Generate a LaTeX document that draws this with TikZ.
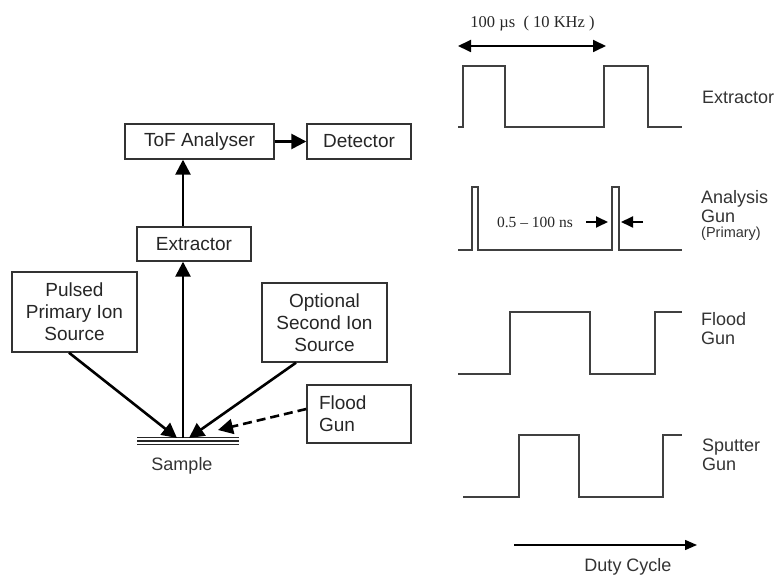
\documentclass[tikz,border=0pt]{standalone}
\usepackage{fontspec}
\setmainfont{Liberation Sans}
\newfontfamily\timesfont{Liberation Serif}
\usetikzlibrary{arrows.meta,positioning}

\begin{document}
\begin{tikzpicture}[x=1pt,y=-1pt,
    box/.style={draw=black!80,line width=1.4pt,align=center,inner sep=2pt,
                font=\fontsize{19}{22}\selectfont,text=black!85},
    beam/.style={line width=2.6pt,-{Triangle[length=15pt,width=15pt]}},
    wave/.style={draw=black!75,line width=1.3pt},
    lbl/.style={font=\fontsize{18}{19}\selectfont,text=black!80,align=left,
                anchor=west,inner sep=0pt},
    tlbl/.style={font=\timesfont\fontsize{15.5}{16}\selectfont,text=black!85,inner sep=0pt},
    tick/.style={line width=1.8pt,-{Triangle[length=12pt,width=11pt]}}]
  \useasboundingbox (0,0) rectangle (777,577);
  % instrument blocks
  \node[box,minimum width=149pt,minimum height=35pt] (tof) at (199.5,141.5) {ToF Analyser};
  \node[box,minimum width=104pt,minimum height=35pt] (det) at (359,141.5)   {Detector};
  \node[box,minimum width=114pt,minimum height=34pt] (ext) at (194,244)     {Extractor};
  \node[box,minimum width=125pt,minimum height=80pt] (pis) at (74.5,312)    {Pulsed\\Primary Ion\\Source};
  \node[box,minimum width=125pt,minimum height=79pt] (sis) at (324.5,322.5) {Optional\\Second Ion\\Source};
  \node[box,minimum width=104pt,minimum height=58pt,align=left,text width=80pt] (fg) at (359,414) {Flood\\Gun};
  % sample
  \coordinate (hit)  at (183,438);
  \coordinate (hitl) at (177,438);
  \coordinate (hitr) at (189,438);
  \coordinate (hitf) at (218,430);
  \foreach \y in {437.5,441,444.5}
    \draw[line width=1.6pt,black!85] (137,\y) -- (239,\y);
  \node[font=\fontsize{18}{18}\selectfont,text=black!80] (smp) at (182,466) {Sample};
  % beams
  \draw[beam] (tof) -- (det);
  \draw[beam] (ext.north -| hit) -- (tof.south -| hit);
  \draw[beam] (hit) -- (ext.south -| hit);
  \draw[beam] ([xshift=-5.5pt]pis.south) -- (hitl);
  \draw[beam] ([xshift=-28.5pt]sis.south) -- (hitr);
  \draw[beam,dash pattern=on 9pt off 5pt] ([yshift=5pt]fg.west) -- (hitf);

  % timing waveforms
  \draw[wave] (458,127) -- (463,127) -- (463,66) -- (505,66) -- (505,127) -- (604,127)
    -- (604,66) -- (648,66) -- (648,127) -- (682,127);
  \draw[wave] (458,250) -- (472,250) -- (472,187) -- (478,187) -- (478,250) -- (612,250)
    -- (612,187) -- (619,187) -- (619,250) -- (682,250);
  \draw[wave] (458,374) -- (510,374) -- (510,312) -- (590,312) -- (590,374) -- (655,374)
    -- (655,312) -- (682,312);
  \draw[wave] (463,497) -- (519,497) -- (519,435) -- (579,435) -- (579,497) -- (663,497)
    -- (663,435) -- (682,435);
  \node[lbl] (lext) at (702,97)    {Extractor};
  \node[lbl] (lana) at (701,206.5) {Analysis\\Gun};
  \node[lbl,font=\fontsize{14.5}{15}\selectfont] (lpri) at (701,234) {(Primary)};
  \node[lbl] (lfld) at (701,329)   {Flood\\Gun};
  \node[lbl] (lspt) at (702,454.5) {Sputter\\Gun};
  % period and pulse width
  \coordinate (p0) at (458,46);
  \coordinate (p1) at (606,46);
  \draw[line width=1.8pt,{Triangle[length=13pt,width=12pt]}-{Triangle[length=13pt,width=12pt]}] (p0) -- (p1);
  \node[tlbl,font=\timesfont\fontsize{16.5}{17}\selectfont] (per) at (532.5,24) {100 µs \ ( 10 KHz )};
  \node[tlbl] (pw) at (535,222) {0.5 – 100 ns};
  \coordinate (w0) at (586,222);
  \coordinate (w1) at (608,222);
  \coordinate (w2) at (643,222);
  \coordinate (w3) at (621,222);
  \draw[tick] (w0) -- (w1);
  \draw[tick] (w2) -- (w3);
  % duty cycle
  \coordinate (dc0) at (514,545);
  \coordinate (dc1) at (697,545);
  \draw[line width=1.5pt,-{Triangle[length=12pt,width=10pt]}] (dc0) -- (dc1);
  \node[font=\fontsize{18}{18}\selectfont,text=black!80] (dcy) at (628,567) {Duty Cycle};
\end{tikzpicture}
\end{document}
